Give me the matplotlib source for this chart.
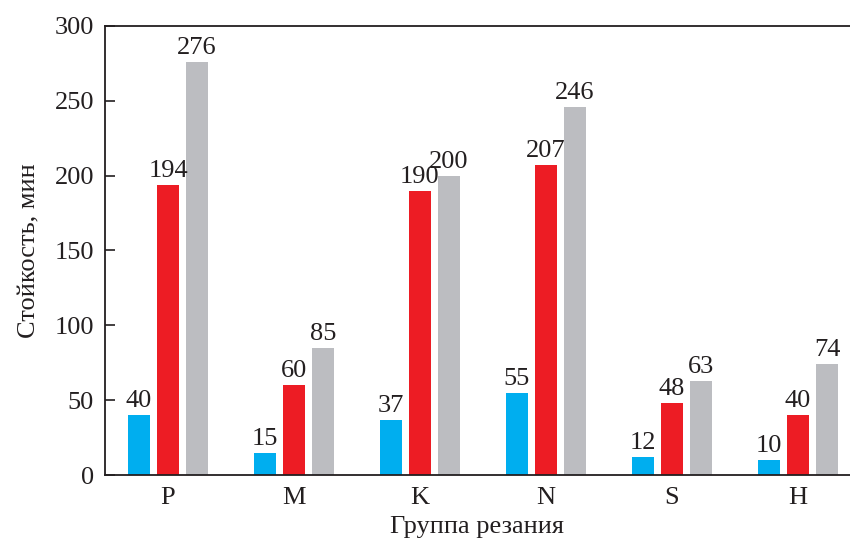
import matplotlib.pyplot as plt
import numpy as np

plt.rcParams['font.family'] = ['Liberation Serif', 'DejaVu Serif']

groups = ['P', 'M', 'K', 'N', 'S', 'H']
blue_vals = [40, 15, 37, 55, 12, 10]
red_vals = [194, 60, 190, 207, 48, 40]
gray_vals = [276, 85, 200, 246, 63, 74]

colors = ['#00aeef', '#ed1c24', '#bcbdc1']
ink = '#231f20'
fs = 19

fig = plt.figure(figsize=(8.5, 5.43), dpi=100)
ax = fig.add_axes([105 / 850, 68 / 543, 1 - 105 / 850, 449 / 543])

x = np.arange(len(groups))
width = 0.175
step = 0.23

for i, (vals, c) in enumerate(zip([blue_vals, red_vals, gray_vals], colors)):
    pos = x + (i - 1) * step
    ax.bar(pos, vals, width=width, color=c, zorder=2)
    for p, v in zip(pos, vals):
        ax.annotate(str(v), (p, v), xytext=(0, 2), textcoords='offset points',
                    ha='center', va='bottom', fontsize=fs, color=ink)

ax.set_xlim(-0.5, 5.413)
ax.set_ylim(0, 300)
ax.set_yticks(range(0, 301, 50))
ax.set_xticks(x)
ax.set_xticklabels(groups)

ax.spines['right'].set_visible(False)
for s in ['left', 'top', 'bottom']:
    ax.spines[s].set_color(ink)
    ax.spines[s].set_linewidth(1.3)

ax.tick_params(axis='y', direction='in', length=7, width=1.2, color=ink,
               labelsize=fs, labelcolor=ink, pad=8)
ax.tick_params(axis='x', length=0, labelsize=fs, labelcolor=ink, pad=9)

ax.set_ylabel('Стойкость, мин', fontsize=fs, color=ink, labelpad=10)
ax.set_xlabel('Группа резания', fontsize=fs, color=ink, labelpad=5)

fig.savefig('out.png', dpi=100)
